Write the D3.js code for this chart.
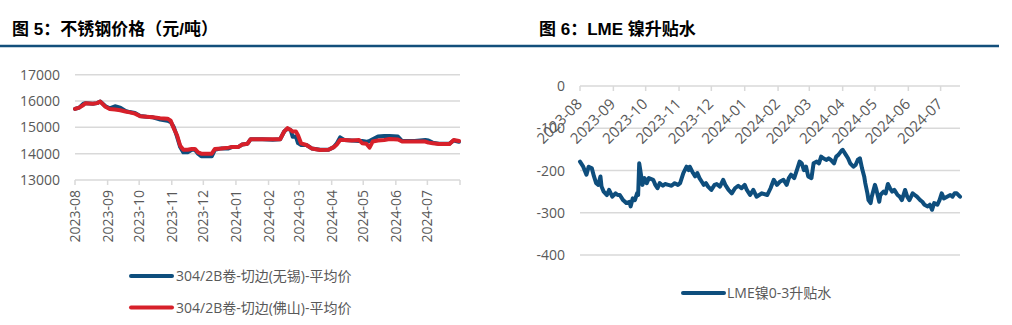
<!DOCTYPE html>
<html>
<head>
<meta charset="utf-8">
<script src="https://cdn.jsdelivr.net/npm/d3@7"></script>
<style>
  body { margin: 0; background: #fff; }
  svg { display: block; font-family: 'Open Sans', 'Noto Sans CJK SC', sans-serif; }
</style>
</head>
<body>
<div id="chart"></div>
<script>
// Fig 5: stainless steel prices (yuan/ton)
const priceDates = [
  '2023-08-01', '2023-08-05', '2023-08-09', '2023-08-11', '2023-08-18', '2023-08-22', '2023-08-25', '2023-08-30',
  '2023-09-03', '2023-09-08', '2023-09-13', '2023-09-18', '2023-09-22', '2023-09-27', '2023-10-02', '2023-10-08',
  '2023-10-14', '2023-10-21', '2023-10-28', '2023-10-31', '2023-11-03', '2023-11-06', '2023-11-09', '2023-11-12',
  '2023-11-16', '2023-11-20', '2023-11-23', '2023-11-26', '2023-11-29', '2023-12-04', '2023-12-09', '2023-12-12',
  '2023-12-18', '2023-12-25', '2023-12-28', '2024-01-03', '2024-01-07', '2024-01-12', '2024-01-15', '2024-01-26',
  '2024-02-05', '2024-02-12', '2024-02-16', '2024-02-19', '2024-02-22', '2024-02-24', '2024-02-27', '2024-02-29',
  '2024-03-03', '2024-03-08', '2024-03-13', '2024-03-21', '2024-03-29', '2024-04-03', '2024-04-06', '2024-04-09',
  '2024-04-13', '2024-04-20', '2024-04-27', '2024-04-30', '2024-05-04', '2024-05-07', '2024-05-10', '2024-05-15',
  '2024-05-21', '2024-05-26', '2024-06-03', '2024-06-07', '2024-06-19', '2024-06-29', '2024-07-02', '2024-07-06',
  '2024-07-12', '2024-07-22', '2024-07-26', '2024-07-31'
];
const wuxiPrice = [
  15700, 15750, 15900, 15920, 15900, 15920, 15980, 15800,
  15720, 15800, 15750, 15620, 15580, 15550, 15430, 15400,
  15380, 15300, 15250, 15200, 15000, 14650, 14250, 14050,
  14050, 14150, 14150, 14000, 13900, 13900, 13900, 14150,
  14200, 14200, 14250, 14250, 14350, 14380, 14550, 14550,
  14530, 14550, 14850, 14950, 14900, 14640, 14650, 14400,
  14330, 14330, 14200, 14150, 14150, 14250, 14400, 14620,
  14520, 14500, 14480, 14480, 14450, 14480, 14550, 14650,
  14670, 14670, 14650, 14480, 14480, 14520, 14500, 14420,
  14380, 14380, 14500, 14450
];
const foshanPrice = [
  15700, 15750, 15850, 15920, 15900, 15920, 15980, 15780,
  15700, 15680, 15650, 15600, 15570, 15520, 15420, 15400,
  15380, 15350, 15330, 15250, 14950, 14700, 14300, 14150,
  14150, 14180, 14180, 14050, 14000, 14000, 14000, 14180,
  14200, 14230, 14250, 14250, 14350, 14380, 14550, 14550,
  14550, 14550, 14850, 14970, 14900, 14840, 14840, 14700,
  14390, 14330, 14200, 14140, 14150, 14250, 14350, 14520,
  14520, 14500, 14520, 14400, 14380, 14230, 14460, 14500,
  14520, 14560, 14540, 14460, 14460, 14460, 14420, 14400,
  14370, 14370, 14520, 14480
];
const priceTicks = [13000, 14000, 15000, 16000, 17000];
const priceSeriesNames = ['304/2B卷-切边(无锡)-平均价', '304/2B卷-切边(佛山)-平均价'];

// Fig 6: LME nickel 0-3 spread
const spreadDates = [
  '2023-08-01', '2023-08-04', '2023-08-07', '2023-08-09', '2023-08-12', '2023-08-14', '2023-08-16', '2023-08-18',
  '2023-08-20', '2023-08-21', '2023-08-23', '2023-08-26', '2023-08-28', '2023-08-31', '2023-09-03', '2023-09-05',
  '2023-09-07', '2023-09-10', '2023-09-13', '2023-09-16', '2023-09-17', '2023-09-19', '2023-09-21', '2023-09-23',
  '2023-09-24', '2023-09-25', '2023-09-26', '2023-09-28', '2023-09-30', '2023-10-02', '2023-10-04', '2023-10-08',
  '2023-10-10', '2023-10-12', '2023-10-14', '2023-10-17', '2023-10-19', '2023-10-22', '2023-10-25', '2023-10-28',
  '2023-10-31', '2023-11-02', '2023-11-05', '2023-11-08', '2023-11-10', '2023-11-11', '2023-11-14', '2023-11-16',
  '2023-11-18', '2023-11-20', '2023-11-22', '2023-11-24', '2023-11-26', '2023-11-28', '2023-12-01', '2023-12-04',
  '2023-12-06', '2023-12-09', '2023-12-12', '2023-12-14', '2023-12-17', '2023-12-20', '2023-12-23', '2023-12-26',
  '2023-12-29', '2024-01-01', '2024-01-03', '2024-01-06', '2024-01-09', '2024-01-12', '2024-01-17', '2024-01-22',
  '2024-01-25', '2024-01-28', '2024-01-31', '2024-02-03', '2024-02-06', '2024-02-09', '2024-02-11', '2024-02-13',
  '2024-02-16', '2024-02-19', '2024-02-21', '2024-02-23', '2024-02-25', '2024-02-27', '2024-02-29', '2024-03-03',
  '2024-03-05', '2024-03-08', '2024-03-10', '2024-03-12', '2024-03-14', '2024-03-17', '2024-03-19', '2024-03-21',
  '2024-03-24', '2024-03-26', '2024-03-28', '2024-03-31', '2024-04-01', '2024-04-04', '2024-04-06', '2024-04-08',
  '2024-04-11', '2024-04-13', '2024-04-15', '2024-04-17', '2024-04-19', '2024-04-21', '2024-04-22', '2024-04-24',
  '2024-04-25', '2024-04-27', '2024-04-28', '2024-05-01', '2024-05-02', '2024-05-05', '2024-05-06', '2024-05-09',
  '2024-05-11', '2024-05-13', '2024-05-15', '2024-05-17', '2024-05-19', '2024-05-22', '2024-05-24', '2024-05-26',
  '2024-05-29', '2024-05-31', '2024-06-02', '2024-06-05', '2024-06-07', '2024-06-09', '2024-06-12', '2024-06-14',
  '2024-06-16', '2024-06-19', '2024-06-21', '2024-06-23', '2024-06-25', '2024-06-28', '2024-06-30', '2024-07-02',
  '2024-07-04', '2024-07-07', '2024-07-10', '2024-07-12', '2024-07-14', '2024-07-16', '2024-07-19'
];
const lmeSpread = [
  -179, -191, -210, -191, -195, -214, -230, -234,
  -214, -238, -250, -258, -246, -262, -254, -258,
  -258, -270, -277, -274, -285, -266, -270, -254,
  -258, -183, -199, -234, -218, -230, -218, -222,
  -234, -242, -230, -236, -232, -234, -236, -230,
  -234, -230, -206, -191, -199, -191, -206, -214,
  -206, -218, -226, -234, -230, -238, -246, -234,
  -232, -238, -222, -234, -246, -254, -242, -236,
  -242, -234, -246, -258, -246, -262, -254, -258,
  -242, -222, -234, -226, -222, -234, -218, -210,
  -218, -195, -179, -183, -199, -191, -214, -218,
  -183, -179, -183, -167, -171, -175, -171, -175,
  -183, -167, -163, -153, -151, -163, -171, -183,
  -191, -187, -175, -171, -195, -214, -230, -254,
  -270, -277, -262, -234, -242, -274, -258, -250,
  -254, -232, -242, -250, -246, -258, -262, -270,
  -246, -262, -270, -254, -258, -262, -270, -274,
  -281, -285, -281, -293, -277, -281, -270, -254,
  -266, -262, -258, -262, -254, -254, -262
];
const spreadTicks = [-400, -300, -200, -100, 0];
const spreadSeriesName = 'LME镍0-3升贴水';

const parseDate = d3.utcParse('%Y-%m-%d');
const blue = '#0e4e7d';
const red = '#d7202a';
const gridColor = '#d9d9d9';
const labelColor = '#595959';
const fontSize = 14;

const width = 1012;
const height = 325;

const svg = d3.select('#chart').append('svg')
  .attr('width', width)
  .attr('height', height);

// header rule and titles
svg.append('line')
  .attr('x1', 0).attr('x2', 999)
  .attr('y1', 46).attr('y2', 46)
  .attr('stroke', '#134f7b')
  .attr('stroke-width', 2.7);

svg.append('text')
  .attr('x', 12).attr('y', 35)
  .attr('font-size', 17).attr('font-weight', 'bold')
  .attr('font-family', "'Liberation Sans', 'Noto Sans CJK SC', sans-serif")
  .attr('fill', '#000')
  .text('图 5：不锈钢价格（元/吨）');

svg.append('text')
  .attr('x', 539).attr('y', 35)
  .attr('font-size', 17).attr('font-weight', 'bold')
  .attr('font-family', "'Liberation Sans', 'Noto Sans CJK SC', sans-serif")
  .attr('fill', '#000')
  .text('图 6：LME 镍升贴水');

// ---------- left chart ----------
const left = {x0: 75, x1: 460, yTop: 74.7, yBottom: 180};

const xPrice = d3.scaleUtc()
  .domain([parseDate('2023-08-01'), parseDate('2024-08-01')])
  .range([left.x0, left.x1]);

const yPrice = d3.scaleLinear()
  .domain([13000, 17000])
  .range([left.yBottom, left.yTop]);

const priceGrid = svg.append('g');
priceGrid.selectAll('line')
  .data(priceTicks)
  .join('line')
  .attr('x1', left.x0).attr('x2', left.x1)
  .attr('y1', d => yPrice(d)).attr('y2', d => yPrice(d))
  .attr('stroke', gridColor)
  .attr('stroke-width', 1.5);

svg.append('g')
  .selectAll('text')
  .data(priceTicks)
  .join('text')
  .attr('x', 60)
  .attr('y', d => yPrice(d))
  .attr('dy', '0.36em')
  .attr('text-anchor', 'end')
  .attr('font-size', fontSize)
  .attr('fill', labelColor)
  .text(d => d);

const priceMonths = d3.utcMonth.range(parseDate('2023-08-01'), parseDate('2024-08-02'));

svg.append('g')
  .selectAll('line')
  .data(priceMonths)
  .join('line')
  .attr('x1', d => xPrice(d)).attr('x2', d => xPrice(d))
  .attr('y1', left.yBottom).attr('y2', left.yBottom + 5)
  .attr('stroke', gridColor)
  .attr('stroke-width', 1.5);

svg.append('g')
  .selectAll('text')
  .data(priceMonths.slice(0, -1))
  .join('text')
  .attr('transform', d => `translate(${xPrice(d)},${left.yBottom + 10}) rotate(-90)`)
  .attr('dy', '0.36em')
  .attr('text-anchor', 'end')
  .attr('font-size', fontSize)
  .attr('fill', labelColor)
  .text(d => d3.utcFormat('%Y-%m')(d));

const priceLine = values => d3.line()
  .x((d, i) => xPrice(parseDate(priceDates[i])))
  .y(d => yPrice(d))(values);

svg.append('g')
  .attr('fill', 'none')
  .attr('stroke-width', 4)
  .attr('stroke-linejoin', 'round')
  .attr('stroke-linecap', 'round')
  .selectAll('path')
  .data([{name: priceSeriesNames[0], values: wuxiPrice, color: blue},
         {name: priceSeriesNames[1], values: foshanPrice, color: red}])
  .join('path')
  .attr('stroke', d => d.color)
  .attr('d', d => priceLine(d.values));

const priceLegend = svg.append('g')
  .selectAll('g')
  .data([{name: priceSeriesNames[0], color: blue, y: 276},
         {name: priceSeriesNames[1], color: red, y: 307.5}])
  .join('g');

priceLegend.append('line')
  .attr('x1', 131).attr('x2', 172)
  .attr('y1', d => d.y).attr('y2', d => d.y)
  .attr('stroke', d => d.color)
  .attr('stroke-width', 4)
  .attr('stroke-linecap', 'round');

priceLegend.append('text')
  .attr('x', 176)
  .attr('y', d => d.y)
  .attr('dy', '0.36em')
  .attr('font-size', fontSize)
  .attr('fill', labelColor)
  .text(d => d.name);

// ---------- right chart ----------
const right = {x0: 580, x1: 960, yTop: 86, yBottom: 255};

const xSpread = d3.scaleUtc()
  .domain([parseDate('2023-08-01'), parseDate('2024-07-19')])
  .range([right.x0, right.x1]);

const ySpread = d3.scaleLinear()
  .domain([-400, 0])
  .range([right.yBottom, right.yTop]);

svg.append('g')
  .selectAll('line')
  .data(spreadTicks)
  .join('line')
  .attr('x1', right.x0).attr('x2', right.x1)
  .attr('y1', d => ySpread(d)).attr('y2', d => ySpread(d))
  .attr('stroke', gridColor)
  .attr('stroke-width', 1.5);

svg.append('g')
  .selectAll('text')
  .data(spreadTicks)
  .join('text')
  .attr('x', 565)
  .attr('y', d => ySpread(d))
  .attr('dy', '0.36em')
  .attr('text-anchor', 'end')
  .attr('font-size', fontSize)
  .attr('fill', labelColor)
  .text(d => d);

const spreadMonths = d3.utcMonth.range(parseDate('2023-08-01'), parseDate('2024-07-19'));

svg.append('g')
  .selectAll('line')
  .data(spreadMonths)
  .join('line')
  .attr('x1', d => xSpread(d)).attr('x2', d => xSpread(d))
  .attr('y1', right.yTop).attr('y2', right.yTop + 5)
  .attr('stroke', gridColor)
  .attr('stroke-width', 1.5);

svg.append('g')
  .selectAll('text')
  .data(spreadMonths)
  .join('text')
  .attr('transform', d => `translate(${xSpread(d) + 3},${right.yTop + 19}) rotate(-45)`)
  .attr('text-anchor', 'end')
  .attr('font-size', 15)
  .attr('fill', labelColor)
  .text(d => d3.utcFormat('%Y-%m')(d));

const spreadLine = d3.line()
  .x((d, i) => xSpread(parseDate(spreadDates[i])))
  .y(d => ySpread(d));

svg.append('path')
  .attr('fill', 'none')
  .attr('stroke', blue)
  .attr('stroke-width', 4)
  .attr('stroke-linejoin', 'round')
  .attr('stroke-linecap', 'round')
  .attr('d', spreadLine(lmeSpread));

svg.append('line')
  .attr('x1', 683).attr('x2', 724)
  .attr('y1', 293).attr('y2', 293)
  .attr('stroke', blue)
  .attr('stroke-width', 4)
  .attr('stroke-linecap', 'round');

svg.append('text')
  .attr('x', 727)
  .attr('y', 293)
  .attr('dy', '0.36em')
  .attr('font-size', fontSize)
  .attr('fill', labelColor)
  .text(spreadSeriesName);
</script>
</body>
</html>
